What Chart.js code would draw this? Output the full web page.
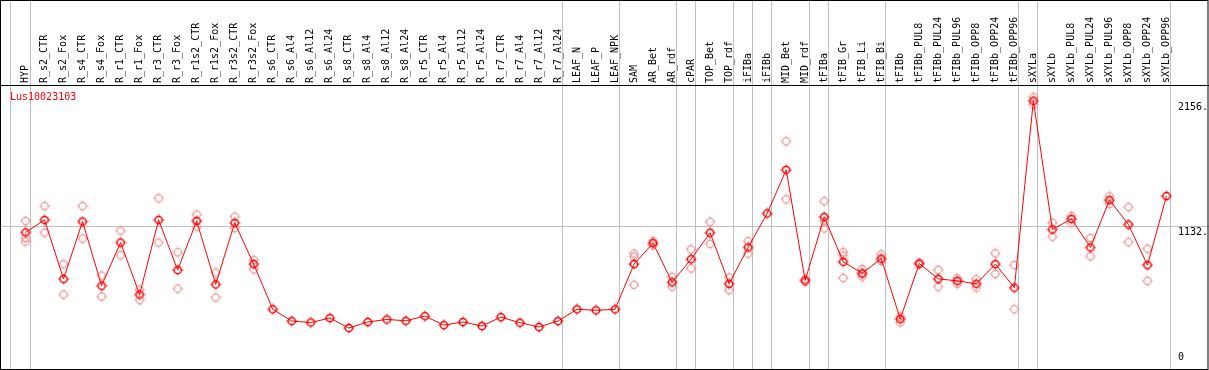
<!DOCTYPE html>
<html>
<head>
<meta charset="utf-8">
<script src="https://cdn.jsdelivr.net/npm/chart.js@4.4.0/dist/chart.umd.min.js"></script>
<style>
  html, body { margin: 0; padding: 0; background: #fff; }
  canvas { display: block; }
</style>
</head>
<body>
<canvas id="expr" width="1209" height="370"></canvas>
<script>
// Expression profile of one gene across samples

const geneName = 'Lus10023103';

const categories = [
  'HYP', 'R_s2_CTR', 'R_s2_Fox', 'R_s4_CTR', 'R_s4_Fox', 'R_r1_CTR', 'R_r1_Fox', 'R_r3_CTR', 'R_r3_Fox',
  'R_r1s2_CTR', 'R_r1s2_Fox', 'R_r3s2_CTR', 'R_r3s2_Fox', 'R_s6_CTR', 'R_s6_Al4', 'R_s6_Al12', 'R_s6_Al24',
  'R_s8_CTR', 'R_s8_Al4', 'R_s8_Al12', 'R_s8_Al24', 'R_r5_CTR', 'R_r5_Al4', 'R_r5_Al12', 'R_r5_Al24',
  'R_r7_CTR', 'R_r7_Al4', 'R_r7_Al12', 'R_r7_Al24', 'LEAF_N', 'LEAF_P', 'LEAF_NPK', 'SAM', 'AR_Bet', 'AR_rdf',
  'cPAR', 'TOP_Bet', 'TOP_rdf', 'iFIBa', 'iFIBb', 'MID_Bet', 'MID_rdf', 'tFIBa', 'tFIB_Gr', 'tFIB_Li', 'tFIB_Bi',
  'tFIBb', 'tFIBb_PUL8', 'tFIBb_PUL24', 'tFIBb_PUL96', 'tFIBb_OPP8', 'tFIBb_OPP24', 'tFIBb_OPP96',
  'sXYLa', 'sXYLb', 'sXYLb_PUL8', 'sXYLb_PUL24', 'sXYLb_PUL96', 'sXYLb_OPP8', 'sXYLb_OPP24', 'sXYLb_OPP96'
];

const meanValues = [
  1078, 1180, 697, 1167, 641, 995, 569, 1180, 770,
  1172, 652, 1156, 818, 448, 352, 340, 376,
  295, 344, 365, 354, 392, 319, 344, 311,
  384, 338, 303, 352, 448, 440, 448, 818, 990, 670,
  858, 1075, 657, 955, 1233, 1590, 684, 1204, 837, 743, 863,
  368, 823, 697, 681, 657, 818, 625,
  2156, 1102, 1188, 955, 1343, 1142, 810, 1376
];

const repA = [
  1172, 1293, 818, 1293, 724, 1092, 609, 1357, 915,
  1223, 748, 1207, 853, null, null, null, null,
  null, null, null, null, null, null, null, null,
  null, null, null, null, null, null, null, 904, 1006, 714,
  939, 1164, 708, 1006, null, 1824, 695, 1333, 917, 778, 899,
  390, 830, 770, 702, 694, 907, 810,
  2186, 1156, 1212, 1032, 1373, 1285, 944, null
];

const repB = [
  1003, 1076, 569, 1027, 553, 891, 523, 995, 617,
  1124, 545, 1113, 775, null, null, null, null,
  null, null, null, null, null, null, null, null,
  null, null, null, null, null, null, null, 649, 971, 633,
  783, 984, 606, 904, null, 1349, 672, 1110, 705, 716, 845,
  340, 815, 633, 657, 625, 738, 448,
  2124, 1043, 1156, 882, 1311, 998, 681, null
];

const repC = [
  1032, null, null, null, null, null, null, null, null,
  null, null, null, null, null, null, null, null,
  null, null, null, null, null, null, null, null,
  null, null, null, null, null, null, null, 880, null, null,
  null, null, null, null, null, null, null, 1170, 889, 735, null,
  null, null, null, null, null, null, null,
  null, null, null, null, null, null, null, null
];

// sample groups end after these indices (-1 = before the first)
const groupEnds = [-1, 0, 28, 31, 34, 35, 37, 38, 39, 41, 42, 45, 52, 53, 60];

const yTickValues = [0, 1132, 2156];
const yTickLabels = ['0', '1132.', '2156.'];
const yMax = 2285;

function makeMarker(color, width) {
  const c = document.createElement('canvas');
  c.width = 12;
  c.height = 12;
  const g = c.getContext('2d');
  g.strokeStyle = color;
  g.lineWidth = width;
  g.beginPath();
  g.arc(6, 6, 3.6, 0, Math.PI * 2);
  g.stroke();
  g.lineWidth = 1;
  g.beginPath();
  g.moveTo(6, 0.5); g.lineTo(6, 2);
  g.moveTo(6, 10); g.lineTo(6, 11.5);
  g.moveTo(0.5, 6); g.lineTo(2, 6);
  g.moveTo(10, 6); g.lineTo(11.5, 6);
  g.stroke();
  return c;
}

const meanMarker = makeMarker('#ff0000', 1.5);
const repMarker = makeMarker('rgb(236,150,150)', 1.2);

const framePlugin = {
  id: 'frame',
  beforeDraw(chart) {
    const ctx = chart.ctx;
    const xs = chart.scales.x;
    const ys = chart.scales.y;
    const W = chart.width;
    const H = chart.height;
    ctx.save();
    ctx.strokeStyle = '#c0c0c0';
    ctx.lineWidth = 1;
    ctx.beginPath();
    const gy = Math.round(ys.getPixelForValue(1132)) + 0.5;
    ctx.moveTo(0, gy); ctx.lineTo(W, gy);
    groupEnds.forEach(i => {
      const x = Math.round(xs.getPixelForValue(i + 0.21)) + 0.5;
      ctx.moveTo(x, 0); ctx.lineTo(x, H);
    });
    ctx.stroke();
    ctx.restore();
  },
  afterDraw(chart) {
    const ctx = chart.ctx;
    const ys = chart.scales.y;
    const area = chart.chartArea;
    ctx.save();
    ctx.strokeStyle = '#000';
    ctx.lineWidth = 1;
    ctx.strokeRect(0.5, 0.5, chart.width - 1.5, chart.height - 1);
    ctx.beginPath();
    ctx.moveTo(0, Math.round(area.top) + 0.5);
    ctx.lineTo(chart.width, Math.round(area.top) + 0.5);
    ctx.stroke();

    ctx.font = '10px "DejaVu Sans Mono"';
    ctx.fillStyle = '#ff0000';
    ctx.textBaseline = 'top';
    ctx.textAlign = 'left';
    ctx.fillText(geneName, 10, area.top + 7);

    ctx.fillStyle = '#000';
    yTickValues.forEach((v, i) => {
      const y = Math.min(ys.getPixelForValue(v) + 2, area.bottom - 12);
      ctx.fillText(yTickLabels[i], 1178, y);
    });
    ctx.restore();
  }
};

new Chart(document.getElementById('expr'), {
  type: 'line',
  data: {
    labels: categories,
    datasets: [
      {
        label: 'mean',
        data: meanValues,
        borderColor: '#ff0000',
        borderWidth: 1,
        pointStyle: meanMarker,
        pointRadius: 5,
        tension: 0
      },
      { label: 'rep A', data: repA, showLine: false, pointStyle: repMarker, pointRadius: 5 },
      { label: 'rep B', data: repB, showLine: false, pointStyle: repMarker, pointRadius: 5 },
      { label: 'rep C', data: repC, showLine: false, pointStyle: repMarker, pointRadius: 5 }
    ]
  },
  options: {
    responsive: false,
    animation: false,
    layout: { padding: { left: 16, right: 33, top: 0, bottom: 1 } },
    plugins: {
      legend: { display: false },
      tooltip: { enabled: false },
      title: { display: false }
    },
    scales: {
      x: {
        position: 'top',
        offset: true,
        grid: { display: false, drawTicks: false },
        border: { display: false },
        ticks: {
          autoSkip: false,
          minRotation: 90,
          maxRotation: 90,
          padding: 2,
          labelOffset: 12,
          color: '#000',
          font: { family: 'DejaVu Sans Mono', size: 10 }
        },
        afterFit: (scale) => { scale.height = 85; }
      },
      y: { display: false, min: 0, max: yMax }
    }
  },
  plugins: [framePlugin]
});
</script>
</body>
</html>
